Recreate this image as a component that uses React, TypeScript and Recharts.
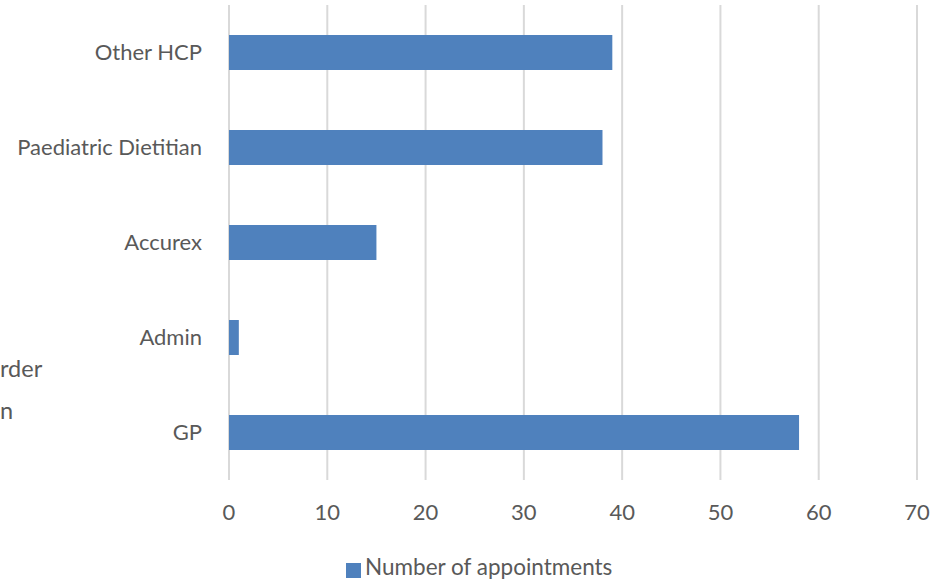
import React from 'react';
import { BarChart, Bar, XAxis, YAxis, CartesianGrid, Legend } from 'recharts';

const categories = ['Other HCP', 'Paediatric Dietitian', 'Accurex', 'Admin', 'GP'];
const appointments = [39, 38, 15, 1, 58];
const xTicks = [0, 10, 20, 30, 40, 50, 60, 70];

const data = categories.map((name, i) => ({ name, value: appointments[i] }));

const textColor = '#595959';
const font = 'Lato, "Open Sans", sans-serif';

export default function App() {
  return (
    <div style={{ position: 'absolute', left: 0, top: 0, width: 947, height: 580, background: '#fff', fontFamily: font }}>
      <BarChart
        width={947}
        height={580}
        data={data}
        layout="vertical"
        margin={{ top: 5, right: 30, bottom: 10, left: 0 }}
      >
        <CartesianGrid horizontal={false} stroke="#d9d9d9" strokeWidth={2} />
        <XAxis
          type="number"
          domain={[0, 70]}
          ticks={xTicks}
          axisLine={false}
          tickLine={false}
          tickSize={0}
          tickMargin={24}
          height={50}
          tick={{ fill: textColor, fontSize: 22, fontFamily: font }}
        />
        <YAxis
          type="category"
          dataKey="name"
          width={229}
          axisLine={false}
          tickLine={false}
          tickSize={0}
          tickMargin={27}
          tick={{ fill: textColor, fontSize: 22, fontFamily: font }}
        />
        <Legend
          verticalAlign="bottom"
          align="left"
          height={40}
          iconType="square"
          iconSize={15}
          wrapperStyle={{ left: 346, bottom: -13, width: 'auto' }}
          formatter={(v) => <span style={{ color: textColor, fontSize: 22.5, fontFamily: font }}>{v}</span>}
        />
        <Bar
          dataKey="value"
          name="Number of appointments"
          fill="#4f81bd"
          barSize={35}
          isAnimationActive={false}
        />
      </BarChart>
      <div style={{ position: 'absolute', left: 0, top: 354, color: textColor, fontSize: 23.5, lineHeight: '28px' }}>rder</div>
      <div style={{ position: 'absolute', left: 0, top: 396, color: textColor, fontSize: 23.5, lineHeight: '28px' }}>n</div>
    </div>
  );
}
